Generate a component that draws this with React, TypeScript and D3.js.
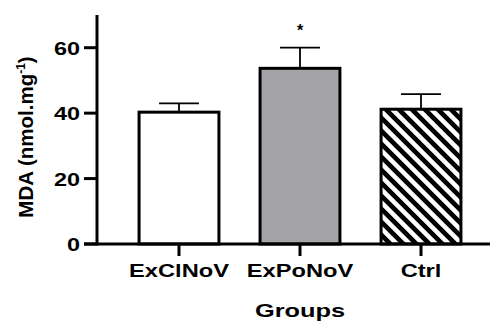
import * as d3 from "d3";
import React, { useRef, useEffect } from "react";

const groups = ["ExClNoV", "ExPoNoV", "Ctrl"];
const means = [40.3, 53.7, 41.2];
const errors = [2.7, 6.3, 4.6];
const yTicks = [0, 20, 40, 60];
const marks = ["", "*", ""];

const width = 492;
const height = 321;
const font = "Arial, 'Liberation Sans', Helvetica, sans-serif";

function BarChart() {
  const ref = useRef(null);

  useEffect(() => {
    const svg = d3.select(ref.current);
    svg.selectAll("*").remove();

    const xScale = d3
      .scaleBand()
      .domain(groups)
      .range([118.5, 481.5])
      .paddingInner(0.34)
      .paddingOuter(0.17);

    const yScale = d3.scaleLinear().domain([0, 70]).range([244, 15]);

    // hatch for the control bar
    const defs = svg.append("defs");
    const pat = defs
      .append("pattern")
      .attr("id", "hatch")
      .attr("patternUnits", "userSpaceOnUse")
      .attr("width", 9.2)
      .attr("height", 9.2)
      .attr("patternTransform", "rotate(-45)");
    pat.append("rect").attr("width", 9.2).attr("height", 9.2).attr("fill", "#fff");
    pat.append("rect").attr("width", 4.6).attr("height", 9.2).attr("fill", "#000");

    const fills = ["#ffffff", "#a4a3a8", "url(#hatch)"];

    // error bars (upper only)
    const err = svg.append("g");
    groups.forEach((g, i) => {
      const cx = xScale(g) + xScale.bandwidth() / 2;
      const capW = xScale.bandwidth() / 2;
      err
        .append("line")
        .attr("x1", cx)
        .attr("x2", cx)
        .attr("y1", yScale(means[i]))
        .attr("y2", yScale(means[i] + errors[i]))
        .attr("stroke", "#000")
        .attr("stroke-width", 1.8);
      err
        .append("line")
        .attr("x1", cx - capW / 2)
        .attr("x2", cx + capW / 2)
        .attr("y1", yScale(means[i] + errors[i]))
        .attr("y2", yScale(means[i] + errors[i]))
        .attr("stroke", "#000")
        .attr("stroke-width", 1.8);
    });

    svg
      .append("g")
      .selectAll(".bar")
      .data(groups)
      .join("rect")
      .classed("bar", true)
      .attr("x", (d) => xScale(d))
      .attr("width", xScale.bandwidth())
      .attr("y", (d, i) => yScale(means[i]))
      .attr("height", (d, i) => yScale(0) - yScale(means[i]))
      .attr("fill", (d, i) => fills[i])
      .attr("stroke", "#000")
      .attr("stroke-width", 3);

    // significance marks
    svg
      .append("g")
      .selectAll("text")
      .data(groups)
      .join("text")
      .attr("x", (d) => xScale(d) + xScale.bandwidth() / 2)
      .attr("y", (d, i) => yScale(means[i] + errors[i]) - 12)
      .attr("text-anchor", "middle")
      .attr("font-family", font)
      .attr("font-weight", "bold")
      .attr("font-size", 16)
      .text((d, i) => marks[i]);

    // axes
    const axisColor = "#000";
    svg
      .append("line")
      .attr("x1", 97)
      .attr("x2", 97)
      .attr("y1", yScale(70))
      .attr("y2", yScale(0) + 1.5)
      .attr("stroke", axisColor)
      .attr("stroke-width", 3);
    svg
      .append("line")
      .attr("x1", 84)
      .attr("x2", 490)
      .attr("y1", yScale(0))
      .attr("y2", yScale(0))
      .attr("stroke", axisColor)
      .attr("stroke-width", 3);

    const yAxis = svg.append("g");
    yTicks.forEach((t) => {
      yAxis
        .append("line")
        .attr("x1", 84)
        .attr("x2", 97)
        .attr("y1", yScale(t))
        .attr("y2", yScale(t))
        .attr("stroke", axisColor)
        .attr("stroke-width", 3);
      yAxis
        .append("text")
        .attr("transform", `translate(80,${yScale(t) + 7})scale(1.34,1)`)
        .attr("text-anchor", "end")
        .attr("font-family", font)
        .attr("font-weight", "bold")
        .attr("font-size", 17.5)
        .text(t);
    });

    const xAxis = svg.append("g");
    groups.forEach((g) => {
      const cx = xScale(g) + xScale.bandwidth() / 2;
      xAxis
        .append("line")
        .attr("x1", cx)
        .attr("x2", cx)
        .attr("y1", yScale(0))
        .attr("y2", yScale(0) + 12)
        .attr("stroke", axisColor)
        .attr("stroke-width", 3);
      xAxis
        .append("text")
        .attr("transform", `translate(${cx},277)scale(1.28,1)`)
        .attr("text-anchor", "middle")
        .attr("font-family", font)
        .attr("font-weight", "bold")
        .attr("font-size", 18.5)
        .text(g);
    });

    svg
      .append("text")
      .attr("transform", "translate(300,317)scale(1.45,1)")
      .attr("text-anchor", "middle")
      .attr("font-family", font)
      .attr("font-weight", "bold")
      .attr("font-size", 17.5)
      .text("Groups");

    const yTitle = svg
      .append("text")
      .attr("transform", "translate(33,137)rotate(-90)")
      .attr("text-anchor", "middle")
      .attr("font-family", font)
      .attr("font-weight", "bold")
      .attr("font-size", 20.5);
    yTitle.append("tspan").text("MDA (nmol.mg");
    yTitle.append("tspan").attr("font-size", 12).attr("dy", -8).text("-1");
    yTitle.append("tspan").attr("dy", 8).text(")");
  }, []);

  return (
    <svg
      ref={ref}
      width={width}
      height={height}
      style={{ position: "absolute", left: 0, top: 0, background: "#fff" }}
    ></svg>
  );
}

export default function App() {
  return <BarChart />;
}
